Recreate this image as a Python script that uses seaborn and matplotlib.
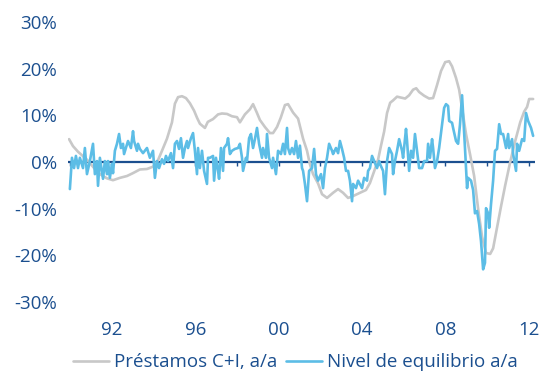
import matplotlib
matplotlib.use("Agg")
import matplotlib.pyplot as plt
import seaborn as sns
import pandas as pd
import numpy as np

# Commercial & industrial loans, year-on-year growth (%)
loans_t = [1989.94, 1990.13, 1990.37, 1990.80, 1991.18, 1991.42, 1991.76, 1992.05, 1992.38,
           1992.72, 1993.00, 1993.34, 1993.68, 1993.97, 1994.20, 1994.40, 1994.64, 1994.88,
           1995.02, 1995.17, 1995.36, 1995.55, 1995.74, 1995.94, 1996.08, 1996.22, 1996.46,
           1996.60, 1996.85, 1997.09, 1997.28, 1997.52, 1997.76, 1998.00, 1998.14, 1998.38,
           1998.62, 1998.77, 1998.96, 1999.10, 1999.34, 1999.58, 1999.73, 1999.92, 2000.10,
           2000.30, 2000.45, 2000.69, 2000.93, 2001.17, 2001.36, 2001.50, 2001.65, 2001.89,
           2002.08, 2002.32, 2002.61, 2002.85, 2003.09, 2003.33, 2003.57, 2003.90, 2004.19,
           2004.38, 2004.58, 2004.77, 2004.91, 2005.06, 2005.20, 2005.35, 2005.49, 2005.68,
           2005.87, 2006.07, 2006.26, 2006.45, 2006.60, 2006.74, 2006.98, 2007.22, 2007.41,
           2007.60, 2007.79, 2007.99, 2008.18, 2008.32, 2008.51, 2008.66, 2008.80, 2008.99,
           2009.19, 2009.38, 2009.57, 2009.76, 2009.95, 2010.15, 2010.29, 2010.48, 2010.67,
           2010.87, 2011.11, 2011.35, 2011.59, 2011.78, 2011.92, 2012.02, 2012.21]
loans_v = [4.9, 3.4, 2.2, 0.5, -1.5, -2.6, -3.5, -3.9, -3.4,
           -3.0, -2.4, -1.6, -1.5, -1.0, 0.3, 2.4, 5.0, 8.5,
           12.5, 13.9, 14.1, 13.7, 12.6, 11.0, 9.5, 8.2, 7.3,
           8.6, 9.2, 10.2, 10.4, 10.3, 9.8, 9.6, 8.5, 10.2,
           11.3, 12.4, 10.5, 9.0, 7.5, 6.2, 6.2, 7.5, 9.5,
           12.2, 12.4, 10.6, 9.3, 5.0, 2.4, -0.5, -2.6, -4.6,
           -6.9, -7.7, -6.6, -5.8, -6.6, -7.7, -7.3, -6.6, -6.0,
           -4.5, -2.0, 0.5, 3.5, 6.5, 10.5, 12.7, 13.2, 14.0,
           13.8, 13.6, 14.3, 15.5, 15.8, 15.0, 14.2, 13.6, 13.7,
           16.5, 19.5, 21.4, 21.6, 20.5, 18.0, 15.5, 11.5, 6.0,
           1.5, -3.0, -10.0, -16.0, -19.5, -19.7, -18.5, -14.0, -9.5,
           -5.0, 0.0, 4.5, 8.5, 10.8, 11.8, 13.5, 13.5]

# Equilibrium level, year-on-year (%)
equil_t = [1989.98, 1990.08, 1990.18, 1990.27, 1990.37, 1990.46, 1990.61, 1990.70, 1990.80,
           1990.94, 1991.09, 1991.18, 1991.28, 1991.33, 1991.42, 1991.57, 1991.66, 1991.76,
           1991.81, 1991.90, 1992.00, 1992.05, 1992.14, 1992.24, 1992.34, 1992.43, 1992.53,
           1992.58, 1992.67, 1992.77, 1992.91, 1993.01, 1993.06, 1993.20, 1993.25, 1993.34,
           1993.49, 1993.68, 1993.82, 1993.97, 1994.06, 1994.16, 1994.26, 1994.40, 1994.50,
           1994.59, 1994.69, 1994.83, 1994.93, 1995.02, 1995.12, 1995.22, 1995.31, 1995.41,
           1995.50, 1995.60, 1995.65, 1995.79, 1995.89, 1995.98, 1996.08, 1996.13, 1996.22,
           1996.32, 1996.42, 1996.56, 1996.61, 1996.70, 1996.85, 1996.90, 1996.99, 1997.09,
           1997.14, 1997.23, 1997.33, 1997.38, 1997.52, 1997.57, 1997.66, 1997.76, 1997.90,
           1998.05, 1998.14, 1998.24, 1998.29, 1998.43, 1998.48, 1998.58, 1998.67, 1998.77,
           1998.86, 1998.96, 1999.06, 1999.20, 1999.25, 1999.39, 1999.44, 1999.54, 1999.68,
           1999.73, 1999.87, 1999.97, 2000.11, 2000.21, 2000.30, 2000.40, 2000.45, 2000.54,
           2000.64, 2000.74, 2000.83, 2000.93, 2001.02, 2001.12, 2001.17, 2001.26, 2001.36,
           2001.46, 2001.60, 2001.70, 2001.79, 2001.89, 2002.03, 2002.13, 2002.22, 2002.32,
           2002.42, 2002.56, 2002.61, 2002.75, 2002.85, 2002.94, 2003.04, 2003.14, 2003.23,
           2003.33, 2003.42, 2003.52, 2003.57, 2003.71, 2003.81, 2004.00, 2004.10, 2004.24,
           2004.29, 2004.38, 2004.48, 2004.58, 2004.72, 2004.82, 2004.86, 2005.01, 2005.10,
           2005.20, 2005.30, 2005.44, 2005.49, 2005.58, 2005.68, 2005.78, 2005.92, 2005.97,
           2006.11, 2006.16, 2006.26, 2006.35, 2006.45, 2006.54, 2006.64, 2006.74, 2006.88,
           2006.98, 2007.12, 2007.17, 2007.26, 2007.36, 2007.41, 2007.50, 2007.60, 2007.70,
           2007.84, 2007.94, 2008.03, 2008.13, 2008.18, 2008.32, 2008.37, 2008.51, 2008.61,
           2008.70, 2008.80, 2008.85, 2008.94, 2009.04, 2009.09, 2009.23, 2009.33, 2009.42,
           2009.52, 2009.62, 2009.71, 2009.81, 2009.90, 2009.95, 2010.05, 2010.10, 2010.19,
           2010.29, 2010.38, 2010.48, 2010.58, 2010.67, 2010.77, 2010.91, 2011.01, 2011.06,
           2011.20, 2011.25, 2011.39, 2011.44, 2011.54, 2011.68, 2011.78, 2011.87, 2011.97,
           2012.11, 2012.21]
equil_v = [-5.8, 0.9, -1.3, 1.3, -1.3, 0.9, -1.3, 3.0, -2.6,
           0.2, 3.9, -2.6, 0.2, -5.1, 0.9, -3.6, 0.2, -2.6,
           0.2, -3.4, -0.4, -2.4, 2.4, 3.9, 6.0, 3.0, 3.9,
           1.7, 3.0, 4.5, 3.0, 6.6, 4.5, 2.4, 3.9, 2.8,
           1.9, 3.0, 0.9, 2.4, -3.4, 0.2, -1.3, 0.6, -0.4,
           1.3, 0.2, 1.9, -1.3, 3.9, 4.5, 2.8, 5.1, 0.9,
           3.0, 4.5, 3.0, 5.1, 6.2, 2.4, -2.6, 3.0, -1.3,
           2.4, -1.9, -4.7, 0.9, 0.9, 1.3, -4.0, 0.9, -1.9,
           -3.6, 3.0, -1.9, 3.0, 3.9, 5.1, 1.7, 2.4, 2.8,
           3.0, 3.9, 0.9, -1.9, 0.9, 0.2, 5.1, 6.0, 3.0,
           4.9, 7.3, 3.9, 0.9, 3.0, 0.9, 6.0, 0.9, -1.3,
           0.9, -2.6, 2.4, 1.7, 3.9, 1.7, 7.3, 3.0, 1.7,
           3.0, 1.7, 4.5, 0.9, 3.5, -1.3, -1.9, -4.7, -8.4,
           -1.9, -1.3, 2.8, -2.6, -4.0, -2.6, -5.6, -1.3, 0.9,
           3.9, 2.4, 1.7, 3.0, 1.9, 4.5, 2.8, 0.9, -1.9,
           -1.9, -4.0, -8.4, -4.7, -5.6, -4.0, -5.6, -3.4, -4.0,
           -1.9, -1.3, 1.3, 0.2, -1.3, 0.2, -0.4, -1.9, -6.9,
           0.2, 3.0, 1.7, -2.6, 0.2, 2.4, 4.9, 2.4, 0.9,
           7.1, 4.5, -1.9, 2.4, 0.9, 6.0, 2.4, -1.3, -1.3,
           0.2, 0.2, 3.9, 0.9, 4.9, 3.0, -1.3, 0.2, 3.0,
           8.1, 11.6, 12.4, 12.0, 8.8, 8.4, 7.3, 4.5, 3.9,
           8.0, 14.3, 10.3, 3.0, -5.6, -3.4, -4.0, -6.0, -11.0,
           -10.5, -13.3, -17.0, -23.0, -21.6, -9.9, -11.0, -14.1, -9.0,
           -4.0, 2.4, 2.8, 8.1, 6.0, 6.0, 3.0, 6.0, 3.0,
           4.9, 1.7, -1.9, 3.9, 2.4, 4.9, 4.5, 10.5, 8.8,
           7.3, 5.6]

label_loans = "Préstamos C+I, a/a"
label_equil = "Nivel de equilibrio a/a"
y_ticks = [-30, -20, -10, 0, 10, 20, 30]
x_label_years = [1992, 1996, 2000, 2004, 2008, 2012]
x_label_text = ["92", "96", "00", "04", "08", "12"]
minor_years = list(range(1990, 2013, 2))

NAVY = "#1b4f8f"
GREY = "#c8c8c8"
SKY = "#5cbde6"

sns.set_style("white")
plt.rcParams["font.family"] = ["Open Sans", "DejaVu Sans"]

fig = plt.figure(figsize=(5.42, 3.76), dpi=100)
ax = fig.add_axes([68 / 542, 74 / 376, 467 / 542, 280 / 376])

df_loans = pd.DataFrame({"t": loans_t, "v": loans_v})
df_equil = pd.DataFrame({"t": equil_t, "v": equil_v})

ax.axhline(0, color=NAVY, lw=1.6, zorder=1)
ax.vlines(minor_years, -0.9, 0, color=NAVY, lw=1.0, zorder=1)

sns.lineplot(data=df_loans, x="t", y="v", ax=ax, color=GREY, lw=1.9,
             label=label_loans, zorder=2, estimator=None, sort=False)
sns.lineplot(data=df_equil, x="t", y="v", ax=ax, color=SKY, lw=1.9,
             label=label_equil, zorder=3, estimator=None, sort=False)

ax.set_xlim(1989.89, 2012.30)
ax.set_ylim(-30, 30)
ax.set_yticks(y_ticks)
ax.set_yticklabels([f"{v}%" for v in y_ticks])
ax.set_xticks(x_label_years)
ax.set_xticklabels(x_label_text)
ax.tick_params(axis="both", length=0, colors=NAVY, labelsize=13.5)
ax.tick_params(axis="y", pad=8)
ax.tick_params(axis="x", pad=14)
ax.set_xlabel("")
ax.set_ylabel("")
for s in ax.spines.values():
    s.set_visible(False)

ax.legend_.remove()
handles, labels = ax.get_legend_handles_labels()
leg = fig.legend(handles, labels, loc="center", bbox_to_anchor=(0.545, 0.037),
                 ncol=2, frameon=False, fontsize=13.5, handlelength=1.9,
                 handletextpad=0.25, columnspacing=0.5, labelcolor=NAVY)

fig.savefig("out.png", dpi=100)
